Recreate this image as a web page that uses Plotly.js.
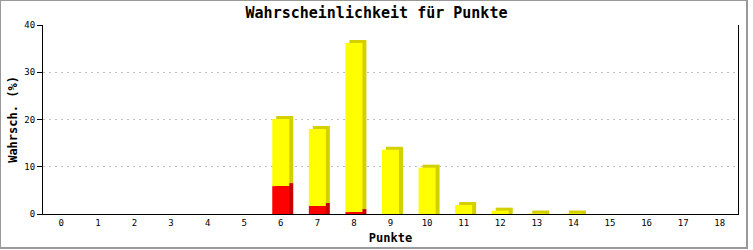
<!DOCTYPE html>
<html>
<head>
<meta charset="utf-8">
<script src="https://cdn.plot.ly/plotly-3.0.1.min.js"></script>
<style>
html,body{margin:0;padding:0;background:#fff;}
#wrap{position:relative;width:753px;height:250px;}
#chart{width:753px;height:250px;}
#frame{position:absolute;left:0;top:0;width:745px;height:246px;border-top:1px solid #999;border-left:1px solid #999;border-right:2px solid #999;border-bottom:2px solid #999;pointer-events:none;}
</style>
</head>
<body>
<div id="wrap"><div id="chart"></div><div id="frame"></div></div>
<script>
// Data
var categories = [0,1,2,3,4,5,6,7,8,9,10,11,12,13,14,15,16,17,18];
var redValues    = [0,0,0,0,0,0,5.9,1.7,0.4,0,0,0,0,0,0,0,0,0,0];
var yellowValues = [0,0,0,0,0,0,14.2,16.3,35.8,13.6,9.8,1.9,0.7,0.1,0.1,0,0,0,0];
var tickLabels = categories.map(String);
var yTicks = [0,10,20,30,40];

// Style constants
var BW = 0.465;           // bar width in category units
var DX = 0.109;           // 3D depth offset in x (category units ~4px)
var DY = 0.64;            // 3D depth offset in y (value units ~3px)
var mono = '"DejaVu Sans Mono", "Liberation Mono", monospace';

var redShadeTop = redValues.map(function(r){ return r > 0 ? r + DY : 0; });
var yellowShadeBase = redShadeTop.slice();
var yellowShadeH = yellowValues.map(function(v, i){ return v > 0 ? (redValues[i] > 0 ? v : v + DY) : 0; });

var traces = [
  {type:'bar', x:categories, y:redShadeTop, base:0, width:BW, offset:-BW/2+DX,
   marker:{color:'#c80000', line:{width:0}}, hoverinfo:'skip'},
  {type:'bar', x:categories, y:yellowShadeH, base:yellowShadeBase, width:BW, offset:-BW/2+DX,
   marker:{color:'#d4d000', line:{width:0}}, hoverinfo:'skip'},
  {type:'bar', x:categories, y:redValues, base:0, width:BW,
   marker:{color:'#ff0000', line:{width:0}}, hoverinfo:'skip'},
  {type:'bar', x:categories, y:yellowValues, base:redValues, width:BW,
   marker:{color:'#ffff00', line:{width:0}}, hoverinfo:'skip'}
];

var layout = {
  width:753, height:250,
  margin:{l:43, r:15, t:25, b:36, pad:0},
  paper_bgcolor:'#ffffff', plot_bgcolor:'#ffffff',
  showlegend:false, barmode:'overlay',
  title:{text:'Wahrscheinlichkeit für Punkte', font:{family:mono, size:15, color:'#000', weight:'bold'},
         x:0.5, xanchor:'center', y:0.948, yanchor:'middle', yref:'container'},
  xaxis:{type:'linear', range:[-0.5,18.5], tickmode:'array', tickvals:categories, ticktext:tickLabels,
         ticks:'', showgrid:false, zeroline:false, showline:true, linecolor:'#000', linewidth:1,
         tickfont:{family:mono, size:9, color:'#000'},
         title:{text:'Punkte', font:{family:mono, size:12, color:'#000', weight:'bold'}, standoff:6},
         fixedrange:true},
  yaxis:{range:[0,40], tickmode:'array', tickvals:yTicks, ticks:'outside', ticklen:5, tickwidth:1, tickcolor:'#000',
         showgrid:true, gridcolor:'#c0c0c0', griddash:'2px,4px', gridwidth:1, zeroline:false,
         showline:true, linecolor:'#000', linewidth:1, mirror:true,
         tickfont:{family:mono, size:9, color:'#000'},
         title:{text:'Wahrsch. (%)', font:{family:mono, size:12, color:'#000', weight:'bold'}, standoff:4},
         fixedrange:true}
};

Plotly.newPlot('chart', traces, layout, {staticPlot:true, displayModeBar:false});
</script>
</body>
</html>
